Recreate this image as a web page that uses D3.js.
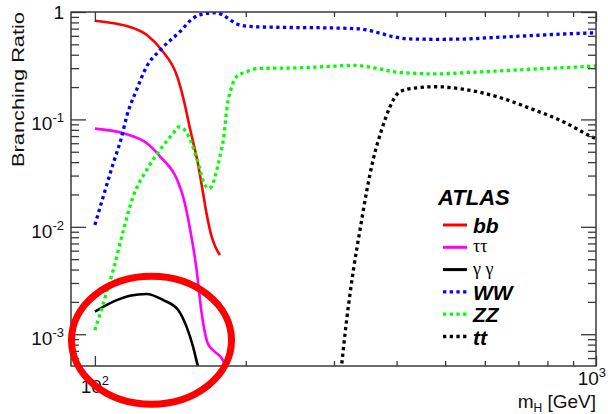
<!DOCTYPE html>
<html><head><meta charset="utf-8">
<script src="https://cdn.jsdelivr.net/npm/d3@7"></script>
<style>body{margin:0;background:#fff}svg{display:block}</style>
</head><body>
<svg id="chart" width="608" height="414"></svg>
<script>
// Higgs boson branching ratios versus mass (GeV)
const bbMass = [100, 110, 117, 127, 136, 146, 150, 155, 160.5, 164, 167, 171, 174, 177.6];
const bbBR   = [0.83, 0.78, 0.73, 0.61, 0.44, 0.25, 0.16, 0.080, 0.039, 0.022, 0.0134, 0.0081, 0.0065, 0.00546];

const tautauMass = [100, 114, 127, 135, 146, 150, 155, 159.6, 163, 168, 172, 180, 184];
const tautauBR   = [0.082, 0.0743, 0.0599, 0.045, 0.0273, 0.0191, 0.0093, 0.00396, 0.00168, 0.00082, 0.000713, 0.000575, 0.00045];

const gamgamMass = [100, 108.8, 117.4, 126.8, 136.9, 146.6, 152.4, 157, 160, 161.5];
const gamgamBR   = [0.00162, 0.00201, 0.00228, 0.00237, 0.00208, 0.00168, 0.00117, 0.000765, 0.000536, 0.00046];

const wwMass = [100, 103.9, 108.8, 113.1, 115.7, 121.1, 126.8, 134.8, 147.8, 157, 167, 173.6, 180, 186, 191.8, 207, 234, 300, 338, 349, 371, 394, 425, 481, 543, 634, 738, 860, 1000];
const wwBR   = [0.0104, 0.0191, 0.039, 0.069, 0.106, 0.188, 0.31, 0.44, 0.656, 0.874, 0.972, 0.985, 0.938, 0.85, 0.773, 0.73, 0.72, 0.71, 0.695, 0.68, 0.634, 0.589, 0.561, 0.557, 0.56, 0.581, 0.602, 0.624, 0.64];

const zzMass = [100, 103.9, 108.8, 114, 119.2, 126.8, 134.8, 143.3, 147, 150, 155, 160, 165.8, 168.3, 171, 173.6, 177.6, 181, 183.2, 187.5, 191.8, 200.8, 213.5, 234, 260, 304, 328, 343, 365, 394, 432, 481, 543, 634, 738, 860, 1000];
const zzBR   = [0.00109, 0.00194, 0.00396, 0.0093, 0.0191, 0.0338, 0.0519, 0.0743, 0.085, 0.0825, 0.0643, 0.0419, 0.0245, 0.0228, 0.0237, 0.0292, 0.045, 0.072, 0.122, 0.2015, 0.25, 0.278, 0.299, 0.30, 0.303, 0.314, 0.319, 0.314, 0.299, 0.278, 0.269, 0.265, 0.272, 0.282, 0.293, 0.303, 0.315];

const ttMass = [309, 318, 328, 338, 349, 359, 373.5, 388, 406, 432, 481, 543, 634, 738, 860, 980, 1000];
const ttBR   = [0.0004, 0.00136, 0.00396, 0.0093, 0.022, 0.0419, 0.080, 0.131, 0.181, 0.195, 0.2015, 0.191, 0.163, 0.127, 0.0952, 0.069, 0.066];

// Axis decades and labels
const xMajor = [100, 1000];
const xMinor = [200, 300, 400, 500, 600, 700, 800, 900];
const xLabelExp = ["2", "3"];
const yMajor = [1e-3, 1e-2, 1e-1, 1];
const yLabelExp = ["-3", "-2", "-1", null];

// Circled region of interest (mass, branching ratio)
const highlightCenter = [129.7, 0.00088];

const series = [
  {label: "bb",  mass: bbMass,     br: bbBR,     color: "#ff0000", dotted: false, symbol: false},
  {label: "\u03c4\u03c4", mass: tautauMass, br: tautauBR, color: "#ff00ff", dotted: false, symbol: true},
  {label: "\u03b3 \u03b3", mass: gamgamMass, br: gamgamBR, color: "#000000", dotted: false, symbol: true},
  {label: "WW",  mass: wwMass,     br: wwBR,     color: "#0000ff", dotted: true,  symbol: false},
  {label: "ZZ",  mass: zzMass,     br: zzBR,     color: "#00ff00", dotted: true,  symbol: false},
  {label: "tt",  mass: ttMass,     br: ttBR,     color: "#000000", dotted: true,  symbol: false}
];

const plotLeft = 71, plotRight = 596, plotTop = 12, plotBottom = 366;
const x = d3.scaleLog().domain([89.6, 1000]).range([plotLeft, plotRight]);
const y = d3.scaleLog().domain([5.06e-4, 1]).range([plotBottom, plotTop]);

const svg = d3.select("#chart");
const font = "'Liberation Sans', Arial, Helvetica, sans-serif";
const axisColor = "#3a3a3a";

svg.append("defs").append("clipPath").attr("id", "plot")
  .append("rect").attr("x", plotLeft).attr("y", plotTop)
  .attr("width", plotRight - plotLeft).attr("height", plotBottom - plotTop);

// Curves
const line = d3.line().x(d => x(d[0])).y(d => y(d[1])).curve(d3.curveMonotoneX);
const curves = svg.append("g").attr("clip-path", "url(#plot)");
series.forEach(s => {
  const pts = s.mass.map((m, i) => [m, s.br[i]]);
  curves.append("path").datum(pts)
    .attr("d", line)
    .attr("fill", "none")
    .attr("stroke", s.color)
    .attr("stroke-width", s.dotted ? 3.3 : 2.6)
    .attr("stroke-dasharray", s.dotted ? "3.3,3.4" : null)
    .attr("stroke-linejoin", "round");
});

// Frame and inward ticks on all four sides
const yMinor = [];
for (let e = -4; e <= -1; e++) for (let k = 2; k <= 9; k++) {
  const v = k * Math.pow(10, e);
  if (v >= y.domain()[0] && v <= 1) yMinor.push(v);
}
function styleAxis(g) {
  g.select(".domain").remove();
  g.selectAll("line").attr("stroke", axisColor).attr("stroke-width", 1.3);
  g.selectAll("text").remove();
}
svg.append("g").attr("transform", `translate(0,${plotBottom})`).call(d3.axisBottom(x).tickValues(xMajor).tickSize(-10).tickFormat("")).call(styleAxis);
svg.append("g").attr("transform", `translate(0,${plotBottom})`).call(d3.axisBottom(x).tickValues(xMinor).tickSize(-5).tickFormat("")).call(styleAxis);
svg.append("g").attr("transform", `translate(0,${plotTop})`).call(d3.axisTop(x).tickValues(xMajor).tickSize(-10).tickFormat("")).call(styleAxis);
svg.append("g").attr("transform", `translate(0,${plotTop})`).call(d3.axisTop(x).tickValues(xMinor).tickSize(-5).tickFormat("")).call(styleAxis);
svg.append("g").attr("transform", `translate(${plotLeft},0)`).call(d3.axisLeft(y).tickValues(yMajor).tickSize(-15).tickFormat("")).call(styleAxis);
svg.append("g").attr("transform", `translate(${plotLeft},0)`).call(d3.axisLeft(y).tickValues(yMinor).tickSize(-8).tickFormat("")).call(styleAxis);
svg.append("g").attr("transform", `translate(${plotRight},0)`).call(d3.axisRight(y).tickValues(yMajor).tickSize(-15).tickFormat("")).call(styleAxis);
svg.append("g").attr("transform", `translate(${plotRight},0)`).call(d3.axisRight(y).tickValues(yMinor).tickSize(-8).tickFormat("")).call(styleAxis);
svg.append("rect").attr("x", plotLeft).attr("y", plotTop)
  .attr("width", plotRight - plotLeft).attr("height", plotBottom - plotTop)
  .attr("fill", "none").attr("stroke", axisColor).attr("stroke-width", 1.5);

// Tick labels
yMajor.forEach((v, i) => {
  const exp = yLabelExp[i];
  const t = svg.append("text").attr("x", 64).attr("text-anchor", "end")
    .attr("font-family", font).attr("font-size", 19).attr("fill", "#111");
  if (exp === null) {
    t.attr("y", y(v) + 7).text("1");
  } else {
    t.attr("y", y(v) + 11);
    t.append("tspan").text("10");
    t.append("tspan").attr("font-size", 13).attr("dy", -8).text(exp);
  }
});
xMajor.forEach((v, i) => {
  const last = i === xMajor.length - 1;
  const t = svg.append("text")
    .attr("x", last ? x(v) + 10 : x(v))
    .attr("y", last ? 385 : 393)
    .attr("text-anchor", last ? "end" : "middle")
    .attr("font-family", font).attr("font-size", 19).attr("fill", "#111");
  t.append("tspan").text("10");
  t.append("tspan").attr("font-size", 13).attr("dy", -8).text(xLabelExp[i]);
});

// Axis titles
const xt = svg.append("text").attr("x", plotRight).attr("y", 408).attr("text-anchor", "end")
  .attr("font-family", font).attr("font-size", 19).attr("fill", "#111");
xt.append("tspan").text("m");
xt.append("tspan").attr("font-size", 12).attr("dy", 4).text("H");
xt.append("tspan").attr("dy", -4).text(" [GeV]");

svg.append("text").attr("transform", "translate(24,12) rotate(-90)")
  .attr("text-anchor", "end").attr("font-family", font).attr("font-size", 17).attr("fill", "#111")
  .attr("textLength", 155).attr("lengthAdjust", "spacingAndGlyphs")
  .text("Branching Ratio");

// Legend
svg.append("text").attr("x", 438).attr("y", 205).attr("font-family", font)
  .attr("font-size", 22).attr("font-weight", "bold").attr("font-style", "italic").attr("fill", "#000").text("ATLAS");
series.forEach((s, i) => {
  const ly = 225 + i * 22.3;
  svg.append("line").attr("x1", 443).attr("x2", 467).attr("y1", ly).attr("y2", ly)
    .attr("stroke", s.color).attr("stroke-width", s.dotted ? 3.3 : 3)
    .attr("stroke-dasharray", s.dotted ? "3.3,3.4" : null);
  const t = svg.append("text").attr("x", 473).attr("y", ly + 8).attr("fill", "#000");
  if (s.symbol) {
    t.attr("font-family", "'Liberation Serif', 'Times New Roman', serif").attr("font-size", 18).attr("y", ly + 5);
  } else {
    t.attr("font-family", font).attr("font-size", 21).attr("font-weight", "bold").attr("font-style", "italic");
  }
  t.text(s.label);
});

// Highlight ring around the diphoton curve
svg.append("ellipse")
  .attr("cx", x(highlightCenter[0])).attr("cy", y(highlightCenter[1]))
  .attr("rx", 80).attr("ry", 64)
  .attr("fill", "none").attr("stroke", "#ff0000").attr("stroke-width", 7);
</script>
</body></html>
